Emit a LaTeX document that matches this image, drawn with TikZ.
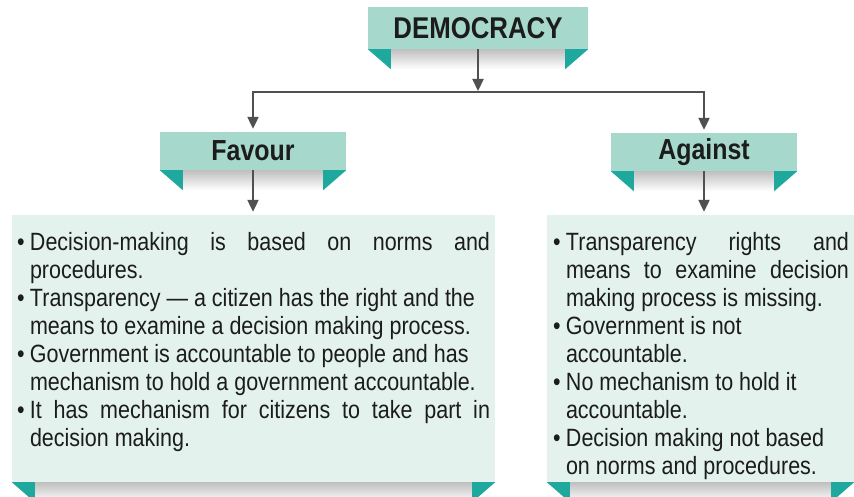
\documentclass[tikz,border=0pt]{standalone}
\usepackage{fontspec}
\setmainfont{Liberation Sans}[FakeStretch=0.86]
\usepackage{tikz}
\usetikzlibrary{arrows.meta}

\definecolor{ribbon}{RGB}{166,217,203}
\definecolor{fold}{RGB}{30,168,158}
\definecolor{panel}{RGB}{227,242,237}
\definecolor{wire}{RGB}{80,80,80}
\definecolor{ink}{RGB}{28,28,28}

\tolerance=9999
\hbadness=10000
% bullet with hanging indent
\newcommand{\bitem}{\par\noindent\hangindent=13pt\hangafter=1\strut\makebox[13pt][l]{\textbullet}}

\begin{document}
\begin{tikzpicture}[x=1pt,y=-1pt,
    ribbon/.style={fill=ribbon,text=ink,inner sep=0pt,font=\bfseries\fontsize{29}{29}\selectfont},
    panelbox/.style={fill=panel,inner sep=0pt},
    bullets/.style={text=ink,align=justify,inner xsep=5pt,inner ysep=8pt,anchor=north west,
      font=\fontsize{25}{28}\selectfont},
    wire/.style={draw=wire,line width=2.2pt,-{Triangle[length=12pt,width=11pt]}}]
  \useasboundingbox (0,0) rectangle (854,497);

  \node[ribbon,minimum width=220pt,minimum height=42pt,font=\bfseries\fontsize{30}{30}\selectfont] (demo) at (478,28) {DEMOCRACY};
  \node[ribbon,minimum width=186pt,minimum height=38pt] (fav) at (253,151) {Favour};
  \node[ribbon,minimum width=186pt,minimum height=38pt] (aga) at (704,152) {Against};
  \node[panelbox,minimum width=483pt,minimum height=267pt] (lbox) at (253.5,348.5) {};
  \node[panelbox,minimum width=307pt,minimum height=267pt] (rbox) at (700.5,348.5) {};
  \coordinate (split) at (478,92);

  % folded ends and soft shadow under each box
  \foreach \n in {demo,fav,aga,lbox,rbox} {
    \shade[top color=black!25,bottom color=white] ([xshift=23pt]\n.south west) rectangle ([xshift=-23pt,yshift=-20pt]\n.south east);
    \fill[fold] (\n.south west) -- ++(23,0) -- ++(0,20) -- cycle;
    \fill[fold] (\n.south east) -- ++(-23,0) -- ++(0,20) -- cycle;
  }

  \node[bullets,text width=473pt] (ltxt) at (lbox.north west) {%
    \bitem Decision-making is based on norms and\linebreak procedures.
    \bitem Transparency — a citizen has the right and the\newline means to examine a decision making process.
    \bitem Government is accountable to people and has\newline mechanism to hold a government accountable.
    \bitem It has mechanism for citizens to take part in\linebreak decision making.\par};
  \node[bullets,text width=296pt,inner xsep=6pt] (rtxt) at (rbox.north west) {%
    \bitem Transparency rights and\linebreak means to examine decision\linebreak making process is missing.
    \bitem Government is not\newline accountable.
    \bitem No mechanism to hold it\newline accountable.
    \bitem Decision making not based\newline on norms and procedures.\par};

  \draw[wire,shorten >=1pt] (demo) -- (split);
  \draw[wire,shorten >=3pt] (split) -| (fav);
  \draw[wire,shorten >=3pt] (split) -| (aga);
  \draw[wire,shorten >=3pt] (fav.south) -- (fav.south |- lbox.north);
  \draw[wire,shorten >=3pt] (aga.south) -- (aga.south |- rbox.north);
\end{tikzpicture}
\end{document}
